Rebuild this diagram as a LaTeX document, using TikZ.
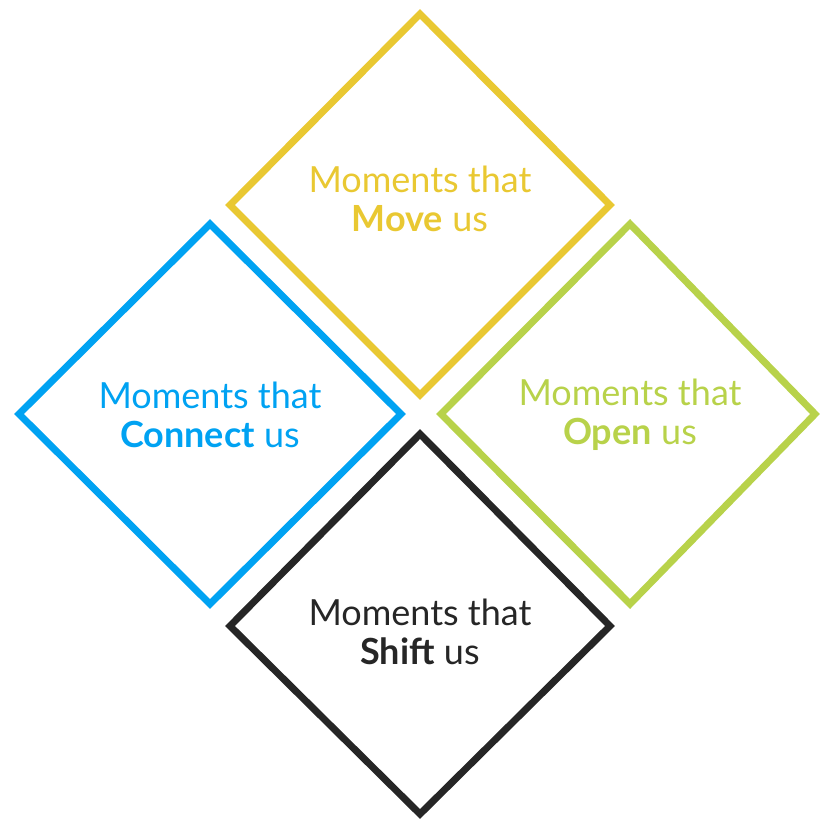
\documentclass[tikz,border=0pt]{standalone}
\usepackage{fontspec}
\setmainfont{Lato}
\definecolor{cyel}{HTML}{E9C832}
\definecolor{cblu}{HTML}{00A2F2}
\definecolor{cgrn}{HTML}{B8D24A}
\definecolor{cblk}{HTML}{262626}
\begin{document}
\begin{tikzpicture}[x=1pt,y=-1pt,
  dia/.style={draw=#1,line width=7pt,line join=miter},
  lbl/.style={text=#1,font=\fontsize{36}{39}\selectfont,align=center}]
\useasboundingbox (0,0) rectangle (820,821);
\draw[dia=cyel] (420,14) -- (610,205) -- (420,395) -- (230,205) -- cycle;
\draw[dia=cblu] (210,224) -- (401,414) -- (210,604) -- (19,414) -- cycle;
\draw[dia=cgrn] (630,224) -- (815,414) -- (630,604) -- (441,414) -- cycle;
\draw[dia=cblk] (420,434) -- (610,626) -- (420,814) -- (230,626) -- cycle;
\node[lbl=cyel] (tm) at (420,199) {Moments that\\\textbf{Move} us};
\node[lbl=cblu] (tc) at (210,415) {Moments that\\\textbf{Connect} us};
\node[lbl=cgrn] (to) at (630,415) {Moments that\\\textbf{Open} us};
\node[lbl=cblk] (ts) at (420,632) {Moments that\\\textbf{Shift} us};
\end{tikzpicture}
\end{document}
